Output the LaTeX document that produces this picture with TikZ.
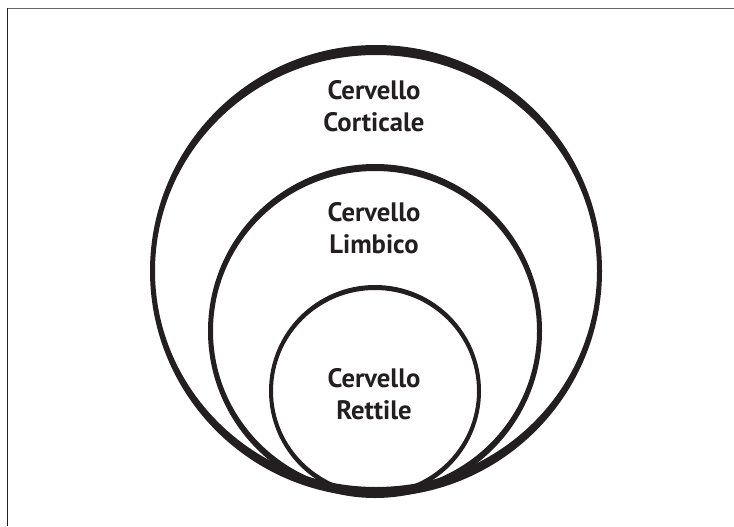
\documentclass[tikz,border=0pt]{standalone}
\usepackage{fontspec}
\setmainfont{PT Sans}
\usepackage{tikz}
\definecolor{inkblack}{HTML}{231F20}
\tikzset{
  ring/.style = {fill = inkblack, even odd rule},
  label/.style = {align = center,
                  text = inkblack,
                  font = \bfseries\fontsize{20}{23.5}\selectfont}
}

\begin{document}
\begin{tikzpicture}[x=0.75pt,y=0.75pt]

    \useasboundingbox (0,0) rectangle (734,526);

    % frame
    \draw[line width = 0.8pt, black!60] (7.5,517.5) -- (734,517.5);
    \draw[line width = 0.8pt, inkblack] (7.5,517.5) -- (7.5,0);

    % outer ring
    \fill[ring] (376,255) circle [radius = 226]
                (376,255) ellipse [x radius = 221, y radius = 216];
    % middle ring
    \fill[ring] (375,195) circle [radius = 167]
                (375,195) ellipse [x radius = 162, y radius = 160];
    % inner ring
    \fill[ring] (375,135) circle [radius = 106]
                (375,135) ellipse [x radius = 102, y radius = 101];

    \node[label] (Corticale) at (374,420) {Cervello\\Corticale};
    \node[label] (Limbico) at (374,298) {Cervello\\Limbico};
    \node[label] (Rettile) at (374,132) {Cervello\\Rettile};

\end{tikzpicture}
\end{document}
